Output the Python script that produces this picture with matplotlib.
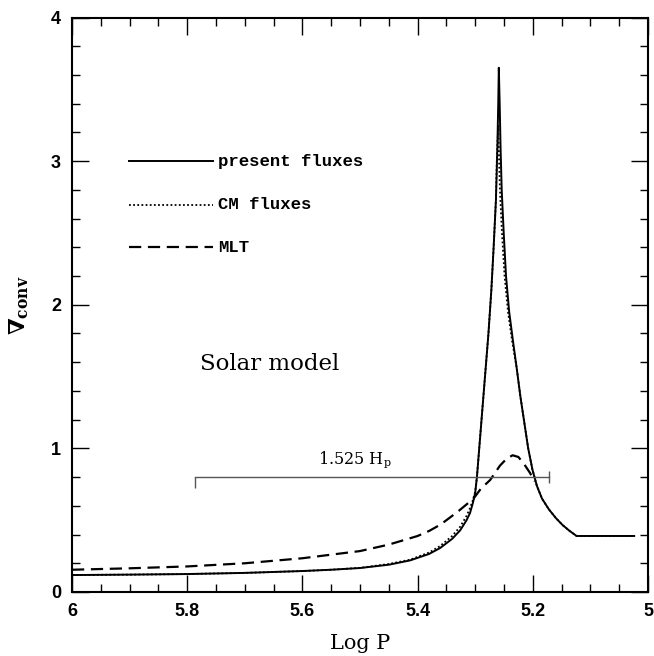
import matplotlib
matplotlib.use("Agg")
import matplotlib.pyplot as plt
from matplotlib.ticker import MultipleLocator

plt.rcParams['mathtext.fontset'] = 'dejavuserif'

# ---- data ----
present_logp = [6.00, 5.90, 5.80, 5.70, 5.60, 5.55, 5.50, 5.45, 5.413, 5.38, 5.361, 5.34,
                5.326, 5.315, 5.309, 5.304, 5.300, 5.297, 5.293, 5.289, 5.285, 5.281,
                5.277, 5.272, 5.268, 5.264, 5.2615, 5.260, 5.259,
                5.2575, 5.256, 5.254, 5.2505, 5.2465, 5.241, 5.2345, 5.228, 5.2215,
                5.214, 5.208, 5.2005, 5.193, 5.184, 5.172, 5.160, 5.148, 5.136, 5.124, 5.024]
present_val = [0.118, 0.121, 0.125, 0.133, 0.146, 0.155, 0.167, 0.19, 0.22, 0.265, 0.306, 0.37,
               0.43, 0.50, 0.55, 0.62, 0.69, 0.80, 1.00, 1.20, 1.40, 1.60,
               1.80, 2.10, 2.40, 2.73, 3.10, 3.40, 3.65,
               3.40, 3.10, 2.80, 2.50, 2.20, 1.95, 1.75, 1.56, 1.36,
               1.16, 1.00, 0.85, 0.74, 0.65, 0.575, 0.515, 0.465, 0.425, 0.39, 0.39]

cm_logp = [6.00, 5.90, 5.80, 5.70, 5.60, 5.55, 5.50, 5.45, 5.413, 5.38, 5.361, 5.34,
           5.326, 5.315, 5.309, 5.304, 5.300, 5.297, 5.293, 5.289, 5.285, 5.281,
           5.277, 5.272, 5.268, 5.264, 5.2625, 5.260,
           5.2585, 5.257, 5.2535, 5.249, 5.243, 5.236, 5.228, 5.2215,
           5.214, 5.208, 5.2005, 5.193, 5.184, 5.172, 5.160, 5.148, 5.136, 5.124, 5.024]
cm_val = [0.118, 0.121, 0.125, 0.133, 0.146, 0.155, 0.168, 0.195, 0.225, 0.275, 0.32, 0.39,
          0.455, 0.53, 0.585, 0.64, 0.70, 0.80, 1.00, 1.20, 1.40, 1.60,
          1.80, 2.10, 2.40, 2.73, 3.00, 3.25,
          3.00, 2.80, 2.50, 2.20, 1.95, 1.75, 1.56, 1.36,
          1.16, 1.00, 0.85, 0.74, 0.65, 0.575, 0.515, 0.465, 0.425, 0.39, 0.39]

mlt_logp = [6.00, 5.90, 5.80, 5.70, 5.60, 5.50, 5.45, 5.40, 5.38, 5.36, 5.33, 5.303,
            5.29, 5.274, 5.257, 5.245, 5.235, 5.225, 5.215, 5.205, 5.197]
mlt_val = [0.155, 0.165, 0.178, 0.20, 0.235, 0.285, 0.33, 0.39, 0.425, 0.47, 0.56, 0.65,
           0.72, 0.78, 0.88, 0.93, 0.952, 0.94, 0.89, 0.83, 0.77]

series_labels = ["present fluxes", "CM fluxes", "MLT"]

hp_bar_start = 5.786
hp_bar_end = 5.172
hp_bar_level = 0.80
hp_label = "1.525 H$_{\\rm p}$"

# ---- figure ----
fig = plt.figure(figsize=(6.54, 6.56), dpi=100)
ax = fig.add_axes([72/654, 1 - 592/656, 576/654, 574.5/656])

ax.plot(present_logp, present_val, color='black', lw=1.4, solid_joinstyle='round')
ax.plot(cm_logp, cm_val, color='black', lw=1.3, linestyle=(0, (1.0, 1.3)))
ax.plot(mlt_logp, mlt_val, color='black', lw=1.6, linestyle=(0, (5.5, 3.0)))

# pressure-scale-height bar
ax.plot([hp_bar_start, hp_bar_end], [hp_bar_level, hp_bar_level], color='#555555', lw=1.0)
ax.plot([hp_bar_start], [hp_bar_level], marker=3, color='#555555', ms=8, mew=1.0)
ax.plot([hp_bar_end], [hp_bar_level], marker='|', color='#555555', ms=9, mew=1.0)
ax.text((hp_bar_start + hp_bar_end) / 2 + 0.03, hp_bar_level + 0.05, hp_label,
        ha='center', va='bottom', fontsize=11.5, family='DejaVu Serif')

# legend drawn by hand
leg_x0, leg_x1, leg_xt = 5.901, 5.755, 5.747
leg_y = [3.0, 2.695, 2.40]
styles = [dict(lw=1.4, linestyle='-'),
          dict(lw=1.3, linestyle=(0, (1.0, 1.3))),
          dict(lw=1.6, linestyle=(0, (5.5, 3.0)))]
for lab, yy, st in zip(series_labels, leg_y, styles):
    ax.plot([leg_x0, leg_x1], [yy, yy], color='black', **st)
    ax.text(leg_xt, yy, lab, ha='left', va='center', fontsize=12.4,
            family='Liberation Mono', fontweight='bold')

ax.text(5.778, 1.546, "Solar model", ha='left', va='baseline', fontsize=16.5,
        family='DejaVu Serif')

ax.set_xlim(6, 5)
ax.set_ylim(0, 4)
ax.xaxis.set_major_locator(MultipleLocator(0.2))
ax.xaxis.set_minor_locator(MultipleLocator(0.05))
ax.yaxis.set_major_locator(MultipleLocator(1))
ax.yaxis.set_minor_locator(MultipleLocator(0.2))
ax.tick_params(which='both', direction='in', top=True, right=True)
ax.tick_params(which='major', length=12, width=1.0, pad=8)
ax.tick_params(which='minor', length=6, width=1.0)
ax.set_xticks([6, 5.8, 5.6, 5.4, 5.2, 5])
ax.set_xticklabels(['6', '5.8', '5.6', '5.4', '5.2', '5'])
ax.set_yticks([0, 1, 2, 3, 4])
ax.set_yticklabels(['0', '1', '2', '3', '4'])
for lbl in ax.get_xticklabels() + ax.get_yticklabels():
    lbl.set_fontfamily('Liberation Sans')
    lbl.set_fontweight('bold')
    lbl.set_fontsize(13)
for sp in ax.spines.values():
    sp.set_linewidth(1.5)

ax.set_xlabel("Log P", fontsize=15, family='DejaVu Serif', labelpad=10)
ax.set_ylabel(r"$\mathbf{\nabla}_{\mathbf{conv}}$", fontsize=16, labelpad=14)

fig.savefig("out.png", dpi=100)
